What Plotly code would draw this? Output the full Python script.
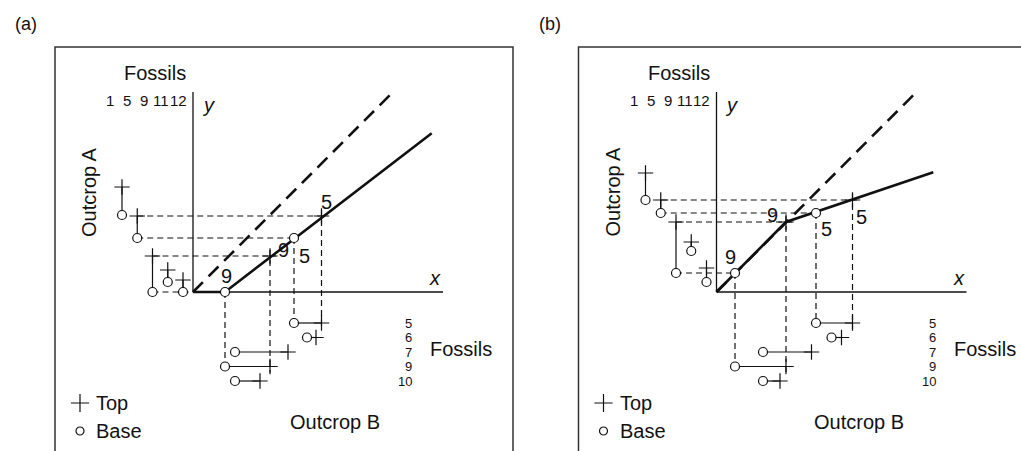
import plotly.graph_objects as go

# ---------------- data (diagram units, origin at the x/y axes crossing) ----------------
fossils_A = ["1", "5", "9", "11", "12"]          # fossils ranged in Outcrop A (left columns)
fossils_B = ["5", "6", "7", "9", "10"]           # fossils ranged in Outcrop B (rows below)

# panel (a)
a_A_base = [77, 54, 0, 10, 0]
a_A_top = [105, 76, 36, 22, 12]
a_B_base = [101, 114, 42, 32, 42]
a_B_top = [128.5, 123, 95, 77, 67]
a_loc_x = [0, 32, 238.7]          # line of correlation vertices
a_loc_y = [0, 0, 158.7]

# panel (b)
b_A_base = [92, 79, 19, 41, 10]
b_A_top = [119, 92, 70, 50, 24]
b_B_base = [99.5, 115, 46.5, 18.5, 46.5]
b_B_top = [136, 125, 95, 69.5, 63.5]
b_loc_x = [0, 69.5, 216.8]
b_loc_y = [0, 70, 119.7]

eq_x = [0, 199]                   # 45-degree reference (dashed)
eq_y = [0, 199]
axis_len_x = 250
axis_len_y = 200

# ---------------- styling / layout constants ----------------
INK = "#111111"
FONT = "Liberation Sans, Arial, Helvetica, sans-serif"
W, H = 1021, 451
ORIG_PX_A, ORIG_PX_B, ORIG_PY = 193.0, 716.5, 292.0
COL0, COL_STEP = -71.0, 15.25      # x of first Outcrop-A column, spacing
ROW0, ROW_STEP = -31.0, -14.5      # y of first Outcrop-B row, spacing
OVER = 6                           # overshoot of dashed tie lines at "top" points

fig = go.Figure()


def seg_trace(segs, xr, width, dash=None):
    xs, ys = [], []
    for (x0, y0, x1, y1) in segs:
        xs += [x0, x1, None]
        ys += [y0, y1, None]
    fig.add_trace(go.Scatter(x=xs, y=ys, mode="lines", xaxis=xr, yaxis="y",
                             line=dict(color=INK, width=width, dash=dash),
                             hoverinfo="skip", showlegend=False))


def marker_trace(xs, ys, xr, kind, size=None):
    if kind == "base":
        mk = dict(symbol="circle", size=size or 9, color="white",
                  line=dict(color=INK, width=1.2))
    else:
        mk = dict(symbol="cross-thin", size=size or 11, color=INK,
                  line=dict(color=INK, width=1.2))
    fig.add_trace(go.Scatter(x=xs, y=ys, mode="markers", xaxis=xr, yaxis="y",
                             marker=mk, hoverinfo="skip", showlegend=False))


def ann(xr, x, y, text, size=20, **kw):
    fig.add_annotation(xref=xr, yref="y", x=x, y=y, text=text, showarrow=False,
                       font=dict(family=FONT, size=size, color=INK), **kw)


panels = [
    dict(tag="(a)", xr="x", A_base=a_A_base, A_top=a_A_top, B_base=a_B_base,
         B_top=a_B_top, loc_x=a_loc_x, loc_y=a_loc_y,
         offs={("9", "base"): (1, 16), ("9", "top"): (13, 6),
               ("5", "base"): (10, -18), ("5", "top"): (5, 14)}),
    dict(tag="(b)", xr="x2", A_base=b_A_base, A_top=b_A_top, B_base=b_B_base,
         B_top=b_B_top, loc_x=b_loc_x, loc_y=b_loc_y,
         offs={("9", "base"): (-5, 16), ("9", "top"): (-14, 7),
               ("5", "base"): (10, -16), ("5", "top"): (9, -17)}),
]

for p in panels:
    xr = p["xr"]
    cols = [COL0 + COL_STEP * i for i in range(len(fossils_A))]
    rows = [ROW0 + ROW_STEP * i for i in range(len(fossils_B))]

    # tie lines for fossils common to both outcrops
    ties = []
    pts = {"base": ([], []), "top": ([], [])}
    for f in fossils_A:
        if f not in fossils_B:
            continue
        ia, ib = fossils_A.index(f), fossils_B.index(f)
        for kind, A, B in (("base", p["A_base"], p["B_base"]), ("top", p["A_top"], p["B_top"])):
            ya, xb = A[ia], B[ib]
            ov = OVER if kind == "top" else 0
            ties.append((cols[ia], ya, xb + ov, ya))
            ties.append((xb, ya + ov, xb, rows[ib] - ov))
            pts[kind][0].append(xb)
            pts[kind][1].append(ya)
            dx, dy = p["offs"][(f, kind)]
            ann(xr, xb + dx, ya + dy, f, size=20)
    seg_trace(ties, xr, 1.2, dash="6px,4px")

    # range bars
    rng = [(cols[i], p["A_base"][i], cols[i], p["A_top"][i]) for i in range(len(fossils_A))]
    rng += [(p["B_base"][i], rows[i], p["B_top"][i], rows[i]) for i in range(len(fossils_B))]
    seg_trace(rng, xr, 1.2)

    # axes and frame
    seg_trace([(0, 0, axis_len_x, 0), (0, 0, 0, axis_len_y)], xr, 1.3)
    fig.add_trace(go.Scatter(x=[-138, -138, 320, 320], y=[-200, 245, 245, -200], mode="lines",
                             xaxis=xr, yaxis="y", line=dict(color="#333", width=1.5),
                             hoverinfo="skip", showlegend=False))

    # 45-degree line and line of correlation
    fig.add_trace(go.Scatter(x=eq_x, y=eq_y, mode="lines", xaxis=xr, yaxis="y",
                             line=dict(color=INK, width=2.6, dash="14px,8px"),
                             hoverinfo="skip", showlegend=False))
    fig.add_trace(go.Scatter(x=p["loc_x"], y=p["loc_y"], mode="lines", xaxis=xr, yaxis="y",
                             line=dict(color=INK, width=2.6),
                             hoverinfo="skip", showlegend=False))

    # markers
    marker_trace(cols, p["A_top"], xr, "top")
    marker_trace(p["B_top"], rows, xr, "top")
    marker_trace(pts["top"][0], pts["top"][1], xr, "top")
    marker_trace(cols, p["A_base"], xr, "base")
    marker_trace(p["B_base"], rows, xr, "base")
    marker_trace(pts["base"][0], pts["base"][1], xr, "base")

    # texts
    ann(xr, -167, 268, p["tag"], size=18)
    ann(xr, -38, 219, "Fossils")
    for i, f in enumerate(fossils_A):
        ann(xr, -83 + 17 * i, 192, f, size=15)
    ann(xr, 15, 187, "<i>y</i>")
    ann(xr, 242, 14, "<i>x</i>")
    ann(xr, -104, 100, "Outcrop A", textangle=-90)
    for i, f in enumerate(fossils_B):
        ann(xr, 220, rows[i], f, size=13, xanchor="right", borderpad=0)
    ann(xr, 235, -57, "Fossils", xanchor="left")
    ann(xr, 142, -130, "Outcrop B")
    # key
    marker_trace([-113], [-111], xr, "top", size=13)
    marker_trace([-113], [-139], xr, "base", size=8)
    ann(xr, -99, -111, "Top", xanchor="left")
    ann(xr, -99, -139, "Base", xanchor="left")

da_end = 520.0 / W
db_start = 523.5 / W
fig.update_layout(
    width=W, height=H, margin=dict(l=0, r=0, t=0, b=0),
    paper_bgcolor="white", plot_bgcolor="white", showlegend=False,
    xaxis=dict(domain=[0, da_end], range=[-ORIG_PX_A, -ORIG_PX_A + da_end * W], visible=False),
    xaxis2=dict(domain=[db_start, 1], range=[db_start * W - ORIG_PX_B, W - ORIG_PX_B],
                visible=False, anchor="y"),
    yaxis=dict(domain=[0, 1], range=[ORIG_PY - H, ORIG_PY], visible=False),
)

fig.write_html("out.html")
